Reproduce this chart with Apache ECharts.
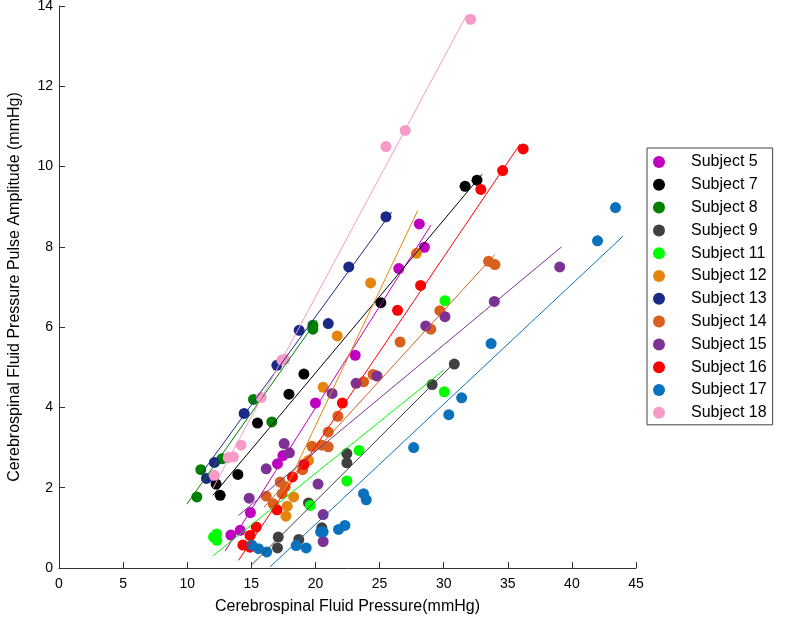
<!DOCTYPE html>
<html><head><meta charset="utf-8">
<script src="https://cdn.jsdelivr.net/npm/echarts@6/dist/echarts.min.js"></script>
<style>html,body{margin:0;padding:0;background:#fff}#c{width:797px;height:625px}</style>
</head><body><div id="c"></div>
<script>
const subjectNames = ['Subject 5','Subject 7','Subject 8','Subject 9','Subject 11','Subject 12','Subject 13','Subject 14','Subject 15','Subject 16','Subject 17','Subject 18'];
const xTicks = [0,5,10,15,20,25,30,35,40,45];
const yTicks = [0,2,4,6,8,10,12,14];

const subject5 = [[13.4,0.82],[14.13,0.94],[14.93,1.38],[17.04,2.60],[17.46,2.80],[20.0,4.11],[23.1,5.30],[26.5,7.46],[28.1,8.57],[28.5,7.99]];
const subject7 = [[12.25,2.09],[12.57,1.81],[13.95,2.33],[15.48,3.61],[17.93,4.33],[19.1,4.83],[25.1,6.61],[31.67,9.51],[32.6,9.66]];
const subject8 = [[10.75,1.77],[11.06,2.45],[12.7,2.72],[15.17,4.20],[16.6,3.64],[19.8,6.05],[19.8,5.95]];
const subject9 = [[17.04,0.50],[17.1,0.77],[18.7,0.71],[19.46,1.62],[20.5,1.0],[22.45,2.62],[22.45,2.85],[29.1,4.57],[30.83,5.08]];
const subject11 = [[12.05,0.77],[12.31,0.69],[12.3,0.85],[19.6,1.56],[22.45,2.17],[23.4,2.93],[30.05,4.39],[30.1,6.66]];
const subject12 = [[17.7,1.29],[17.8,1.54],[18.3,1.77],[19.46,2.68],[20.6,4.5],[21.7,5.78],[24.3,7.1],[27.87,7.84]];
const subject13 = [[11.5,2.23],[12.12,2.63],[14.44,3.85],[16.99,5.05],[18.73,5.92],[21.0,6.09],[22.6,7.5],[25.5,8.75]];
const subject14 = [[16.16,1.79],[16.7,1.60],[17.25,2.14],[17.64,2.02],[17.4,1.85],[19.0,2.45],[19.73,3.03],[20.5,3.06],[21.0,3.02],[21.0,3.39],[21.75,3.78],[23.75,4.64],[24.5,4.82],[26.6,5.63],[29.0,5.95],[29.7,6.41],[33.5,7.64],[34.0,7.56]];
const subject15 = [[14.83,1.74],[16.16,2.47],[17.56,3.10],[17.97,2.87],[20.2,2.09],[20.6,1.33],[20.6,0.66],[21.3,4.35],[23.17,4.6],[24.8,4.78],[28.6,6.03],[30.1,6.26],[33.95,6.64],[39.05,7.5]];
const subject16 = [[14.34,0.57],[14.9,0.52],[14.9,0.81],[15.38,1.02],[17.0,1.45],[18.2,2.27],[19.1,2.58],[22.1,4.11],[26.4,6.42],[28.2,7.04],[32.9,9.43],[34.6,9.9],[36.2,10.44]];
const subject17 = [[15.04,0.57],[15.56,0.48],[16.2,0.40],[18.5,0.56],[19.28,0.50],[20.4,0.90],[20.6,0.90],[21.8,0.96],[22.3,1.06],[23.75,1.85],[23.96,1.70],[27.66,3.0],[30.4,3.82],[31.4,4.24],[33.7,5.59],[42.0,8.15],[43.4,8.98]];
const subject18 = [[12.1,2.31],[13.2,2.75],[13.6,2.77],[14.2,3.06],[15.77,4.25],[17.38,5.18],[17.6,5.2],[25.5,10.5],[27.0,10.9],[32.1,13.67]];

// fitted line endpoints
const fit5 = [[12.95,0.42],[29.0,8.54]];
const fit7 = [[12.0,1.81],[33.0,9.81]];
const fit8 = [[9.97,1.59],[20.1,6.17]];
const fit9 = [[15.0,0.07],[30.7,5.07]];
const fit11 = [[12.0,0.30],[30.0,4.93]];
const fit12 = [[17.5,1.86],[27.97,8.9]];
const fit13 = [[11.1,2.35],[25.95,8.87]];
const fit14 = [[16.0,1.52],[34.0,7.81]];
const fit15 = [[14.0,1.31],[39.2,8.0]];
const fit16 = [[14.0,0.19],[35.96,10.56]];
const fit17 = [[16.47,0.03],[44.0,8.27]];
const fit18 = [[12.0,1.98],[31.8,13.78]];

const subjectData = [subject5,subject7,subject8,subject9,subject11,subject12,subject13,subject14,subject15,subject16,subject17,subject18];
const fitData = [fit5,fit7,fit8,fit9,fit11,fit12,fit13,fit14,fit15,fit16,fit17,fit18];
const colors = ['#c000c0','#000000','#007f00','#404040','#00ff00','#e5850e','#1b2a87','#d95f1e','#7b3294','#ff0000','#0a72bd','#f79ac8'];

const series = [];
subjectNames.forEach((n,i)=>{
  series.push({type:'scatter',name:n,data:subjectData[i],symbol:'circle',symbolSize:11,
    itemStyle:{color:colors[i],opacity:1},z:2,emphasis:{disabled:true}});
});
subjectNames.forEach((n,i)=>{
  series.push({type:'line',name:'fit_'+n,data:fitData[i],symbol:'none',silent:true,
    lineStyle:{color:colors[i],width:1},z:3});
});

const chart = echarts.init(document.getElementById('c'),null,{renderer:'canvas'});
const axisCommon = {
  axisLine:{show:true,lineStyle:{color:'#333',width:1}},
  axisTick:{show:true,inside:true,length:6,lineStyle:{color:'#333'}},
  splitLine:{show:false},
  axisLabel:{color:'#000',fontSize:14,fontFamily:'Liberation Sans, Arial, sans-serif'},
  nameTextStyle:{color:'#000',fontSize:16,fontFamily:'Liberation Sans, Arial, sans-serif'}
};
chart.setOption({
  animation:false,
  backgroundColor:'#fff',
  grid:{left:59,right:161,top:6,bottom:57,containLabel:false,outerBoundsMode:'none'},
  xAxis:Object.assign({type:'value',min:xTicks[0],max:xTicks[xTicks.length-1],interval:5,
    name:'Cerebrospinal Fluid Pressure(mmHg)',nameLocation:'middle',nameGap:31},axisCommon,
    {axisLabel:Object.assign({},axisCommon.axisLabel,{margin:9})}),
  yAxis:Object.assign({type:'value',min:yTicks[0],max:yTicks[yTicks.length-1],interval:2,
    name:'Cerebrospinal Fluid Pressure Pulse Amplitude (mmHg)',nameLocation:'middle',nameGap:36},axisCommon,
    {axisLabel:Object.assign({},axisCommon.axisLabel,{margin:6})}),
  legend:{data:subjectNames,orient:'vertical',left:647,top:148,icon:'circle',
    itemWidth:54,itemHeight:12,itemGap:6.8,padding:[6,6,4,6],
    borderColor:'#444',borderWidth:1,backgroundColor:'#fff',
    textStyle:{color:'#000',fontSize:16,lineHeight:16,fontFamily:'Liberation Sans, Arial, sans-serif'},
    selectedMode:false},
  series:series
});
</script></body></html>
